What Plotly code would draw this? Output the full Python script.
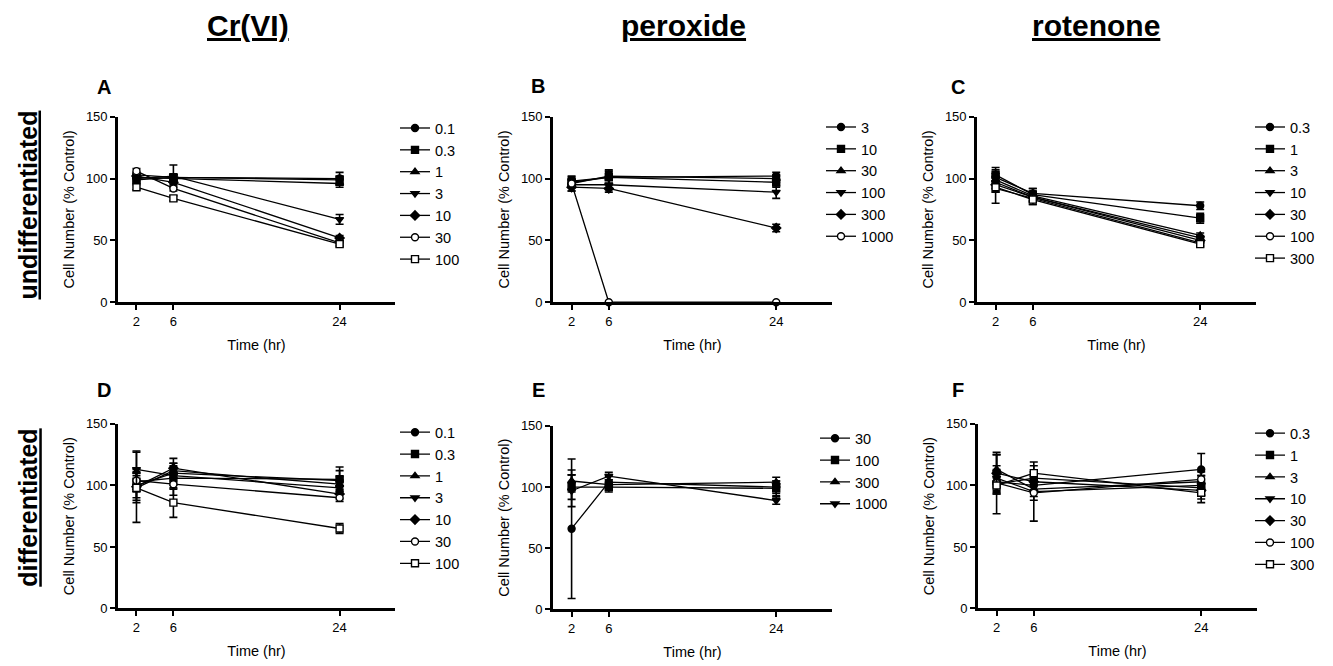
import plotly.graph_objects as go

FONT = "Liberation Sans, Arial, sans-serif"

time_hr = [2, 6, 24]
x_ticks = [2, 6, 24]
y_ticks = [0, 50, 100, 150]

# ---------------- Panel A : Cr(VI), undifferentiated ----------------
A_labels = ["0.1", "0.3", "1", "3", "10", "30", "100"]
A_means = [[103, 101, 100], [99, 101, 99], [101, 100, 96], [100, 102, 67],
           [102, 97, 52], [106, 92, 48], [93, 84, 47]]
A_errs = [[2, 2, 5], [2, 2, 3], [2, 2, 3], [2, 9, 4], [2, 2, 2], [2, 2, 2], [2, 2, 2]]

# ---------------- Panel B : peroxide, undifferentiated ----------------
B_labels = ["3", "10", "30", "100", "300", "1000"]
B_means = [[98, 101, 102], [97, 101, 97], [96, 102, 100], [95, 95, 89],
           [93, 92, 60], [96, 0, 0]]
B_errs = [[4, 5, 3], [4, 6, 4], [3, 3, 3], [5, 4, 5], [3, 3, 3], [3, 0, 0]]

# ---------------- Panel C : rotenone, undifferentiated ----------------
C_labels = ["0.3", "1", "3", "10", "30", "100", "300"]
C_means = [[101, 88, 78], [103, 87, 68], [99, 86, 54], [97, 85, 52],
           [95, 85, 50], [92, 84, 48], [93, 83, 47]]
C_errs = [[6, 4, 3], [6, 5, 4], [5, 4, 2], [5, 4, 2], [6, 4, 2], [12, 5, 2], [4, 4, 2]]

# ---------------- Panel D : Cr(VI), differentiated ----------------
D_labels = ["0.1", "0.3", "1", "3", "10", "30", "100"]
D_means = [[100, 110, 104], [103, 106, 105], [98, 112, 101], [113, 108, 98],
           [99, 114, 93], [104, 101, 90], [98, 86, 65]]
D_errs = [[10, 8, 8], [8, 9, 10], [12, 6, 6], [14, 8, 5],
          [29, 8, 4], [9, 9, 3], [10, 12, 4]]

# ---------------- Panel E : peroxide, differentiated ----------------
E_labels = ["30", "100", "300", "1000"]
E_means = [[66, 104, 100], [100, 100, 99], [105, 102, 104], [97, 109, 89]]
E_errs = [[57, 5, 5], [10, 4, 6], [9, 4, 4], [13, 3, 3]]

# ---------------- Panel F : rotenone, differentiated ----------------
F_labels = ["0.3", "1", "3", "10", "30", "100", "300"]
F_means = [[103, 100, 113], [101, 106, 98], [113, 97, 103], [106, 95, 100],
           [110, 103, 96], [102, 94, 105], [100, 110, 94]]
F_errs = [[10, 4, 13], [8, 5, 6], [12, 6, 5], [10, 24, 8],
          [15, 8, 7], [25, 6, 6], [6, 6, 8]]

col_titles = ["Cr(VI)", "peroxide", "rotenone"]
row_titles = ["undifferentiated", "differentiated"]
panel_letters = ["A", "B", "C", "D", "E", "F"]

# marker styles: (symbol, fill)
styles = [("circle", "black"), ("square", "black"), ("triangle-up", "black"),
          ("triangle-down", "black"), ("diamond", "black"),
          ("circle", "white"), ("square", "white")]

W, H = 1333, 666
def px(xp):
    return xp / W
def py(yp):
    # map a target vertical pixel position to paper coordinates
    t = (yp - 6) / 0.98
    return 1 - t / H

# panel geometry in pixels (left, right, top, bottom)
geom = [(118, 395, 116, 302), (553, 832, 116, 302), (977, 1256, 116, 302),
        (118, 395, 424, 609), (553, 832, 426, 610), (978, 1257, 424, 609)]
# legend anchor: (left x, centre of first entry y)
legend_pos = [(395, 128), (821, 127), (1250, 127), (395, 433), (815, 439), (1250, 434)]
letter_pos = [(104, 86), (538, 85), (958, 86), (104, 390), (538, 390), (958, 390)]

panels = [(A_labels, A_means, A_errs), (B_labels, B_means, B_errs),
          (C_labels, C_means, C_errs), (D_labels, D_means, D_errs),
          (E_labels, E_means, E_errs), (F_labels, F_means, F_errs)]

fig = go.Figure()
layout = dict(width=W, height=H, margin=dict(l=0, r=0, t=0, b=0),
              plot_bgcolor="white", paper_bgcolor="white",
              font=dict(family=FONT, color="black"), annotations=[])

for i, (labels, means, errs) in enumerate(panels):
    n = i + 1
    xa = "x" if n == 1 else f"x{n}"
    ya = "y" if n == 1 else f"y{n}"
    lg = "legend" if n == 1 else f"legend{n}"
    for j, lab in enumerate(labels):
        sym, fill = styles[j]
        fig.add_trace(go.Scatter(
            x=time_hr, y=means[j], name=lab, mode="lines+markers",
            xaxis=xa, yaxis=ya, legend=lg, cliponaxis=False,
            line=dict(color="black", width=1.3),
            marker=dict(symbol=sym, size=7,
                        color=fill, line=dict(color="black", width=1.4)),
            error_y=dict(type="data", array=errs[j], visible=True,
                         color="black", thickness=1.6, width=4),
        ))
    l, r, t, b = geom[i]
    layout["xaxis" if n == 1 else f"xaxis{n}"] = dict(
        domain=[px(l), px(r)], anchor=ya, range=[0, 30],
        tickvals=x_ticks, ticktext=[str(v) for v in x_ticks],
        showline=True, linecolor="black", linewidth=2.6, ticks="outside",
        ticklen=5, tickwidth=2, tickcolor="black", showgrid=False, zeroline=False,
        tickfont=dict(size=13, family=FONT, color="black"),
        title=dict(text="Time (hr)", font=dict(size=14.5, family=FONT, color="black"),
                   standoff=13),
        fixedrange=True)
    layout["yaxis" if n == 1 else f"yaxis{n}"] = dict(
        domain=[py(b), py(t)], anchor=xa, range=[0, 150],
        tickvals=y_ticks, showline=True, linecolor="black", linewidth=2.6,
        ticks="outside", ticklen=5, tickwidth=2, tickcolor="black",
        showgrid=False, zeroline=False,
        tickfont=dict(size=13, family=FONT, color="black"),
        title=dict(text="Cell Number (% Control)",
                   font=dict(size=14.5, family=FONT, color="black"), standoff=8),
        fixedrange=True)
    lx, ly = legend_pos[i]
    layout[lg] = dict(x=px(lx), y=py(ly) + 17 / H, xanchor="left", yanchor="top",
                      bgcolor="rgba(0,0,0,0)", borderwidth=0,
                      font=dict(size=14.5, family=FONT, color="black"),
                      itemclick=False, itemdoubleclick=False)
    ax, ay = letter_pos[i]
    layout["annotations"].append(dict(
        text=f"<b>{panel_letters[i]}</b>", x=px(ax), y=py(ay), xref="paper",
        yref="paper", showarrow=False, xanchor="center", yanchor="middle",
        font=dict(size=20, family=FONT, color="black")))

for txt, cx in zip(col_titles, [248, 683, 1096]):
    layout["annotations"].append(dict(
        text=f"<b><u>{txt}</u></b>", x=px(cx), y=py(25), xref="paper", yref="paper",
        showarrow=False, xanchor="center", yanchor="middle",
        font=dict(size=30, family=FONT, color="black")))

for txt, cy in zip(row_titles, [205, 508]):
    layout["annotations"].append(dict(
        text=f"<b><u>{txt}</u></b>", x=px(28), y=py(cy), xref="paper", yref="paper",
        showarrow=False, xanchor="center", yanchor="middle", textangle=-90,
        font=dict(size=25, family=FONT, color="black")))

fig.update_layout(**layout)

post = (
    "var de=document.documentElement, bd=document.body;"
    "de.style.margin='0';de.style.padding='0';de.style.overflow='hidden';"
    "bd.style.margin='0';bd.style.padding='0';bd.style.overflow='hidden';"
    "bd.style.height='666px';"
    "var g=document.getElementById('{plot_id}');"
    "if(g&&g.parentElement){g.parentElement.style.height='666px';"
    "g.parentElement.style.overflow='hidden';g.parentElement.style.margin='0';}"
)
fig.write_html("out.html", config={"displayModeBar": False}, post_script=post)
